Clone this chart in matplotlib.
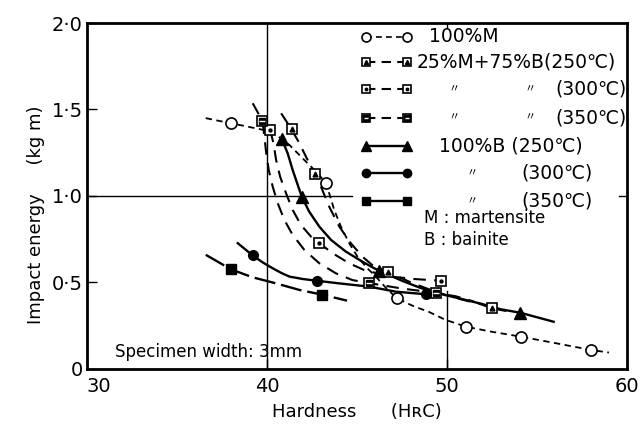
import numpy as np
import matplotlib.pyplot as plt

plt.rcParams['font.family'] = ['DejaVu Sans', 'Noto Sans CJK JP']

# 100%M  (open circles, short dashes)
m_line_x = [36.6, 38.0, 38.5, 39.9, 40.51, 41.25, 41.98, 42.54, 43.28, 43.46, 43.74, 44.11, 44.57, 45.03, 45.58, 46.05, 46.6, 47.2, 48.1, 49.0, 49.9, 51.04, 52.5, 54.1, 56.0, 58.0, 59.0]
m_line_y = [1.45, 1.42, 1.41, 1.38, 1.353, 1.295, 1.218, 1.16, 1.077, 1.015, 0.919, 0.823, 0.727, 0.649, 0.582, 0.534, 0.47, 0.41, 0.365, 0.33, 0.285, 0.245, 0.215, 0.187, 0.15, 0.11, 0.095]
m_pts_x = [38.0, 43.28, 47.2, 51.04, 54.1, 58.0]
m_pts_y = [1.42, 1.077, 0.41, 0.245, 0.187, 0.11]

# 25%M+75%B (250C)
mb250_line_x = [40.79, 41.37, 41.8, 42.26, 42.67, 43.0, 43.46, 44.02, 44.66, 45.31, 45.96, 46.7, 48.0, 49.4, 50.5, 51.87, 52.48, 53.3]
mb250_line_y = [1.478, 1.385, 1.305, 1.208, 1.127, 1.054, 0.938, 0.823, 0.727, 0.649, 0.591, 0.562, 0.5, 0.445, 0.41, 0.375, 0.351, 0.335]
mb250_pts_x = [41.37, 42.67, 46.7, 52.48]
mb250_pts_y = [1.385, 1.127, 0.562, 0.351]

# 25%M+75%B (300C)
mb300_line_x = [40.18, 40.36, 40.51, 40.73, 41.06, 41.43, 41.89, 42.45, 42.91, 43.65, 44.57, 45.4, 46.8, 48.2, 49.65]
mb300_line_y = [1.382, 1.305, 1.208, 1.112, 1.016, 0.919, 0.832, 0.765, 0.727, 0.669, 0.611, 0.572, 0.535, 0.52, 0.51]
mb300_pts_x = [40.18, 42.91, 49.65]
mb300_pts_y = [1.382, 0.727, 0.51]

# 25%M+75%B (350C)
mb350_line_x = [39.21, 39.75, 39.86, 39.96, 40.1, 40.32, 40.6, 40.97, 41.43, 42.08, 42.91, 43.83, 44.75, 45.65, 47.5, 49.4, 50.5, 51.5]
mb350_line_y = [1.536, 1.434, 1.343, 1.247, 1.15, 1.054, 0.958, 0.861, 0.775, 0.688, 0.611, 0.553, 0.514, 0.497, 0.465, 0.44, 0.42, 0.39]
mb350_pts_x = [39.75, 45.65, 49.4]
mb350_pts_y = [1.434, 0.497, 0.44]

# 100%B (250C)
b250_line_x = [40.82, 41.15, 41.43, 41.71, 41.95, 42.35, 42.91, 43.56, 44.39, 45.31, 45.96, 46.25, 47.5, 48.5, 49.4, 50.8, 51.87, 53.0, 54.08, 55.93]
b250_line_y = [1.33, 1.247, 1.15, 1.064, 0.992, 0.909, 0.823, 0.746, 0.678, 0.62, 0.582, 0.568, 0.51, 0.47, 0.44, 0.405, 0.378, 0.345, 0.325, 0.273]
b250_pts_x = [40.82, 41.95, 46.25, 54.08]
b250_pts_y = [1.33, 0.992, 0.568, 0.325]

# 100%B (300C)
b300_line_x = [38.38, 39.2, 39.75, 40.32, 40.8, 41.25, 42.0, 42.78, 44.0, 45.68, 47.16, 48.82, 49.5]
b300_line_y = [0.727, 0.657, 0.617, 0.582, 0.555, 0.534, 0.52, 0.51, 0.495, 0.476, 0.447, 0.432, 0.44]
b300_pts_x = [39.2, 42.78, 48.82]
b300_pts_y = [0.657, 0.51, 0.432]

# 100%B (350C)
b350_line_x = [36.6, 38.0, 39.2, 40.5, 41.8, 43.05, 44.45]
b350_line_y = [0.66, 0.576, 0.53, 0.495, 0.457, 0.43, 0.395]
b350_pts_x = [38.0, 43.05]
b350_pts_y = [0.576, 0.43]

x_ticks = [30, 40, 50, 60]
y_ticks = [0, 0.5, 1.0, 1.5, 2.0]
y_tick_labels = ['0', '0·5', '1·0', '1·5', '2·0']

fig, ax = plt.subplots(figsize=(6.41, 4.30), dpi=100)
fig.subplots_adjust(left=0.1357, right=0.978, bottom=0.1419, top=0.9465)

dash_m = (0, (3.5, 2.5))
dash_mb = (0, (6, 4))
dash_b350 = (0, (9, 2.5))


def sq_open(x, y, inner=None, ms=7):
    ax.plot(x, y, ls='none', marker='s', ms=ms, mfc='white', mec='black', mew=1.2, zorder=5)
    if inner == 'tri':
        ax.plot(x, y, ls='none', marker='^', ms=ms * 0.5, color='black', zorder=6)
    elif inner == 'dot':
        ax.plot(x, y, ls='none', marker='o', ms=ms * 0.3, color='black', zorder=6)
    elif inner == 'bar':
        ax.plot(x, y, ls='none', marker='s', ms=ms * 0.7, color='black', zorder=6)
        ax.plot(x, y, ls='none', marker='_', ms=ms * 0.55, mew=1, color='white', zorder=7)


lw = 1.5
ax.plot(m_line_x, m_line_y, color='black', lw=1.3, ls=dash_m, zorder=3)
ax.plot(m_pts_x, m_pts_y, ls='none', marker='o', ms=8, mfc='white', mec='black', mew=1.2, zorder=5)

ax.plot(mb250_line_x, mb250_line_y, color='black', lw=lw, ls=dash_mb, zorder=3)
sq_open(mb250_pts_x, mb250_pts_y, 'tri')
ax.plot(mb300_line_x, mb300_line_y, color='black', lw=lw, ls=dash_mb, zorder=3)
sq_open(mb300_pts_x, mb300_pts_y, 'dot')
ax.plot(mb350_line_x, mb350_line_y, color='black', lw=lw, ls=dash_mb, zorder=3)
sq_open(mb350_pts_x, mb350_pts_y, 'bar')

ax.plot(b250_line_x, b250_line_y, color='black', lw=1.7, zorder=3)
ax.plot(b250_pts_x, b250_pts_y, ls='none', marker='^', ms=8, color='black', zorder=5)
ax.plot(b300_line_x, b300_line_y, color='black', lw=1.7, zorder=3)
ax.plot(b300_pts_x, b300_pts_y, ls='none', marker='o', ms=7, color='black', zorder=5)
ax.plot(b350_line_x, b350_line_y, color='black', lw=1.7, ls=dash_b350, zorder=3)
ax.plot(b350_pts_x, b350_pts_y, ls='none', marker='s', ms=7, color='black', zorder=5)

# reference lines
ax.axvline(40, color='black', lw=1.0, zorder=1)
ax.axvline(50, ymax=0.225, color='black', lw=1.0, zorder=1)
ax.axvline(50, ymin=0.985, color='black', lw=1.0, zorder=1)
ax.axhline(1.0, xmax=0.49, color='black', lw=1.0, zorder=1)
ax.axhline(1.0, xmin=0.985, color='black', lw=1.0, zorder=1)

ax.set_xlim(30, 60)
ax.set_ylim(0, 2.0)
ax.set_xticks(x_ticks)
ax.set_yticks(y_ticks)
ax.set_yticklabels(y_tick_labels)
ax.tick_params(direction='in', length=7, width=1.0, labelsize=14)
ax.tick_params(axis='y', pad=3)
ax.tick_params(axis='x', pad=6)
ax.get_xticklabels()[0].set_ha('left')
for s in ax.spines.values():
    s.set_linewidth(2.0)

ax.set_xlabel('Hardness      (HʀC)', fontsize=13, labelpad=5)
ax.set_ylabel('Impact energy     (kg m)', fontsize=13)
ax.yaxis.set_label_coords(-0.077, 0.445)

ax.text(31.55, 0.1, 'Specimen width: 3mm', fontsize=12, ha='left', va='center')
ax.text(48.73, 0.873, 'M : martensite', fontsize=12, ha='left', va='center')
ax.text(48.73, 0.746, 'B : bainite', fontsize=12, ha='left', va='center')

# legend drawn by hand
row_y = [1.921, 1.776, 1.617, 1.453, 1.289, 1.131, 0.97]
hx = [45.5, 47.8]
fs = 13.5
ax.plot(hx, [row_y[0]] * 2, color='black', lw=1.2, ls=dash_m)
ax.plot(hx, [row_y[0]] * 2, ls='none', marker='o', ms=6.5, mfc='white', mec='black', mew=1.2)
ax.text(49.0, row_y[0], '100%M', fontsize=fs, va='center')
for r, inner in zip([1, 2, 3], ['tri', 'dot', 'bar']):
    ax.plot(hx, [row_y[r]] * 2, color='black', lw=lw, ls=(0, (4.5, 3)))
    sq_open(hx, [row_y[r]] * 2, inner, ms=6)
ax.text(48.3, row_y[1], '25%M+75%B(250℃)', fontsize=fs, va='center')
for r, t in zip([2, 3], ['(300℃)', '(350℃)']):
    ax.text(50.1, row_y[r], '〃', fontsize=8, va='center')
    ax.text(54.3, row_y[r], '〃', fontsize=8, va='center')
    ax.text(56.0, row_y[r], t, fontsize=fs, va='center')
ax.plot(hx, [row_y[4]] * 2, color='black', lw=1.7)
ax.plot(hx, [row_y[4]] * 2, ls='none', marker='^', ms=6.5, color='black')
ax.plot(hx, [row_y[5]] * 2, color='black', lw=1.7)
ax.plot(hx, [row_y[5]] * 2, ls='none', marker='o', ms=6, color='black')
ax.plot(hx, [row_y[6]] * 2, color='black', lw=1.7)
ax.plot(hx, [row_y[6]] * 2, ls='none', marker='s', ms=6, color='black')
ax.text(49.56, row_y[4], '100%B (250℃)', fontsize=fs, va='center')
for r, t in zip([5, 6], ['(300℃)', '(350℃)']):
    ax.text(51.1, row_y[r], '〃', fontsize=8, va='center')
    ax.text(54.14, row_y[r], t, fontsize=fs, va='center')

fig.savefig('out.png', dpi=100)
